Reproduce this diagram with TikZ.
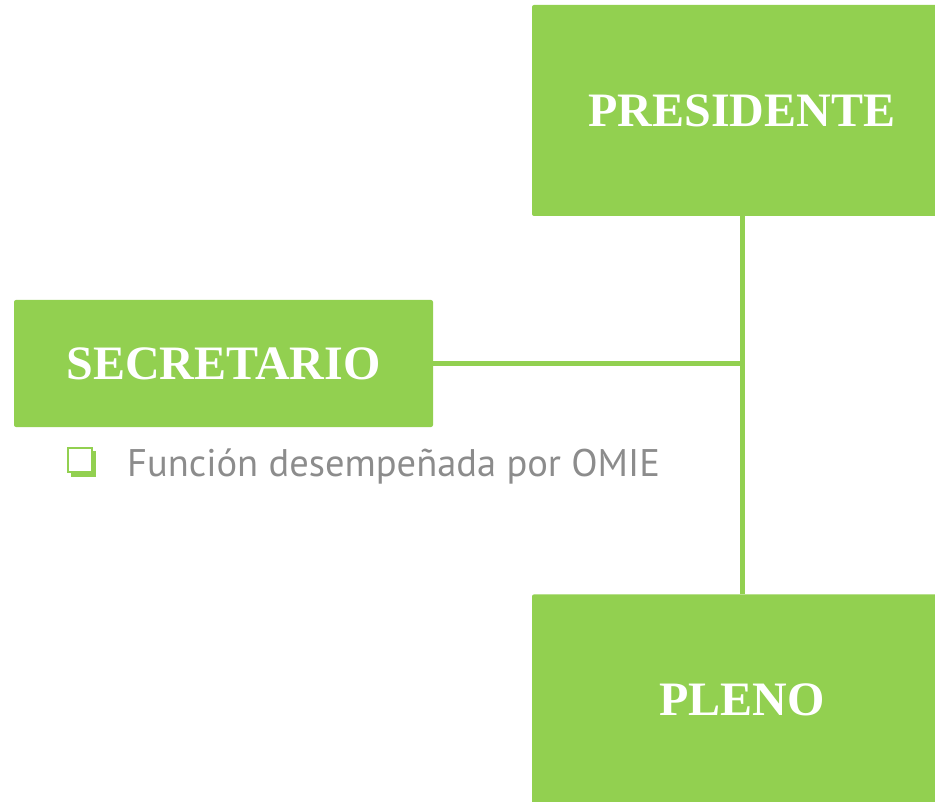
\documentclass[tikz,border=0pt]{standalone}
\usepackage{fontspec}
\setmainfont{Liberation Serif}[BoldFont={Liberation Serif Bold}]
\newfontfamily\notefont{PT Sans}
\usetikzlibrary{positioning}
\definecolor{boxgreen}{HTML}{92D050}
\definecolor{notegray}{HTML}{8C8C8C}

\begin{document}
\begin{tikzpicture}[
  x=1pt, y=-1pt,
  box/.style={fill=boxgreen, rounded corners=2pt, minimum width=420pt, minimum height=211pt,
    align=center, text=white, font=\bfseries\fontsize{48}{56}\selectfont, inner sep=0pt},
  link/.style={draw=boxgreen, line width=5pt}
]
\useasboundingbox (0,0) rectangle (935,802);
\clip (0,0) rectangle (935,802);

% Presidente
\node[box] (pres) at (742,110.5) {PRESIDENTE};

% Pleno
\node[box, below=378pt of pres] (pleno) {PLENO};

% Secretario
\node[box, minimum width=419pt, minimum height=127pt] (secr) at (223.5,363.5) {SECRETARIO};

% lines
\draw[link] (pres.south) -- (pleno.north);
\draw[link] (secr.east) -- (secr.east -| pres.south);

% bullet note
\fill[boxgreen] (71,451) rectangle (96,477);
\draw[boxgreen, line width=2pt, fill=white] (68,448) rectangle (92,472);
\node[anchor=base west, inner sep=0pt, text=notegray, font=\notefont\fontsize{38.5}{46}\selectfont] (note) at (127,476) {Función desempeñada por OMIE};

\end{tikzpicture}
\end{document}
